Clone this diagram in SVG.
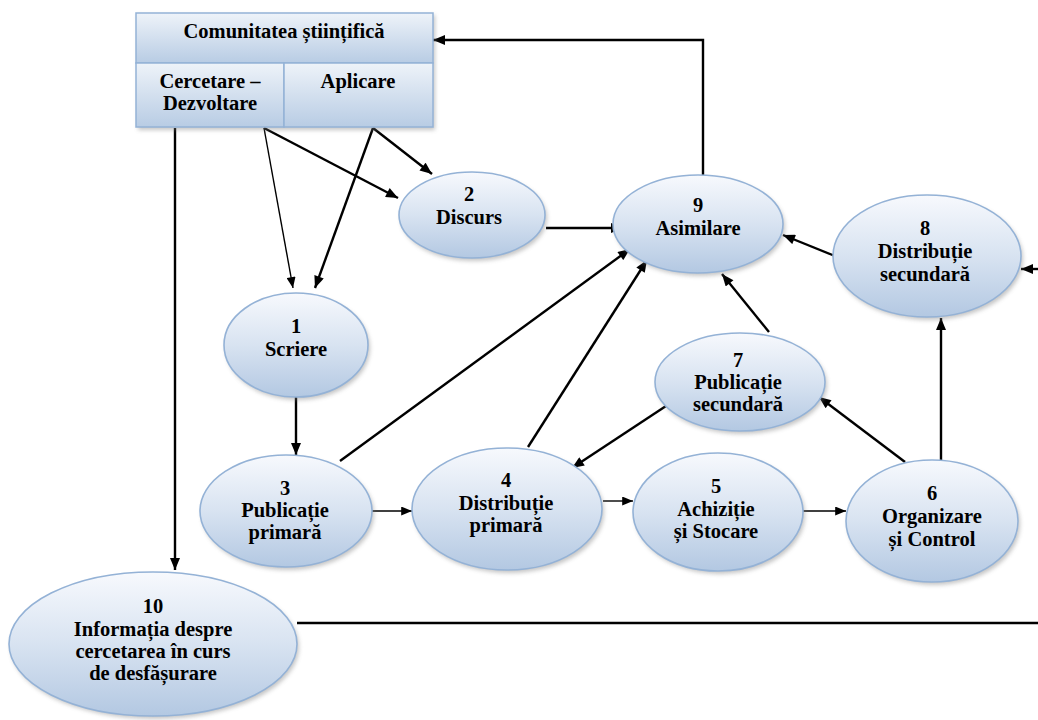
<svg xmlns="http://www.w3.org/2000/svg" width="1038" height="720" viewBox="0 0 1038 720">
<defs>
<linearGradient id="eg" x1="0" y1="0" x2="0" y2="1">
<stop offset="0" stop-color="#f7f9fd"/>
<stop offset="0.5" stop-color="#d8e3f1"/>
<stop offset="1" stop-color="#b3c8e2"/>
</linearGradient>
<linearGradient id="bg" x1="0" y1="0" x2="0" y2="1">
<stop offset="0" stop-color="#eef3f9"/>
<stop offset="1" stop-color="#b8cce4"/>
</linearGradient>
<filter id="sh" x="-10%" y="-10%" width="125%" height="130%">
<feGaussianBlur stdDeviation="2"/>
</filter>
<marker id="ah" viewBox="0 0 12 10" refX="12" refY="5" markerWidth="13" markerHeight="10" markerUnits="userSpaceOnUse" orient="auto">
<path d="M0,0 L12,5 L0,10 z" fill="#000"/>
</marker>
<marker id="ahs" viewBox="0 0 12 10" refX="12" refY="5" markerWidth="12" markerHeight="9" markerUnits="userSpaceOnUse" orient="auto">
<path d="M0,0 L12,5 L0,10 z" fill="#000"/>
</marker>
</defs>
<style>
.el{fill:url(#eg);stroke:#94b2d6;stroke-width:1.6}
.shd{fill:#7f7f7f;opacity:0.45;filter:url(#sh)}
.cell{fill:url(#bg);stroke:#94b2d6;stroke-width:1.5}
.t{font-weight:bold;font-size:20.5px;fill:#000;text-anchor:middle}
.c{fill:none;stroke:#000;stroke-width:2.4}
.cs{fill:none;stroke:#000;stroke-width:1.4}
</style>
<rect width="1038" height="720" fill="#fff"/>

<g id="connectors">
<line class="c" x1="175" y1="128" x2="175" y2="570" marker-end="url(#ah)"/>
<line class="cs" x1="264" y1="128" x2="293" y2="288" marker-end="url(#ahs)"/>
<line class="c" x1="264" y1="128" x2="398" y2="198" marker-end="url(#ah)"/>
<line class="c" x1="373" y1="128" x2="432" y2="174" marker-end="url(#ah)"/>
<line class="c" x1="373" y1="128" x2="315" y2="288" marker-end="url(#ah)"/>
<line class="c" x1="546" y1="228" x2="623" y2="228" marker-end="url(#ah)"/>
<polyline class="c" points="703,175 703,40 433,40" marker-end="url(#ah)"/>
<line class="c" x1="835" y1="256" x2="783" y2="235" marker-end="url(#ah)"/>
<line class="c" x1="1038" y1="269" x2="1021" y2="269" marker-end="url(#ah)"/>
<line class="c" x1="296" y1="397" x2="296" y2="455" marker-end="url(#ah)"/>
<line class="c" x1="340" y1="461" x2="630" y2="249" marker-end="url(#ah)"/>
<line class="c" x1="528" y1="447" x2="647" y2="260" marker-end="url(#ah)"/>
<line class="c" x1="769" y1="332" x2="722" y2="274" marker-end="url(#ah)"/>
<line class="c" x1="666" y1="406" x2="572" y2="468" marker-end="url(#ah)"/>
<line class="c" x1="905" y1="462" x2="819" y2="397" marker-end="url(#ah)"/>
<line class="c" x1="941" y1="461" x2="941" y2="318" marker-end="url(#ah)"/>
<line class="cs" x1="372" y1="511" x2="412" y2="511" marker-end="url(#ahs)"/>
<line class="cs" x1="603" y1="501" x2="633" y2="501" marker-end="url(#ahs)"/>
<line class="cs" x1="803" y1="511" x2="846" y2="511" marker-end="url(#ahs)"/>
<line class="c" x1="297" y1="623" x2="1038" y2="623"/>
</g>

<g font-family="Liberation Serif, Times New Roman, DejaVu Serif, serif">
<g id="comunitatea">
<rect class="shd" x="138" y="15" width="297" height="115"/>
<rect class="cell" x="136" y="13" width="297" height="50"/>
<rect class="cell" x="136" y="63" width="148" height="64"/>
<rect class="cell" x="284" y="63" width="149" height="64"/>
<text class="t" x="284" y="38" font-size="21">Comunitatea științifică</text>
<text class="t" x="210" y="88">Cercetare –</text>
<text class="t" x="210" y="110">Dezvoltare</text>
<text class="t" x="358" y="88">Aplicare</text>
</g>

<g id="n2">
<ellipse class="shd" cx="474" cy="218" rx="73" ry="43"/>
<ellipse class="el" cx="472" cy="215" rx="73" ry="43"/>
<text class="t" x="469" y="201">2</text>
<text class="t" x="469" y="224">Discurs</text>
</g>

<g id="n9">
<ellipse class="shd" cx="700" cy="227" rx="85" ry="49"/>
<ellipse class="el" cx="698" cy="224" rx="85" ry="49"/>
<text class="t" x="698" y="212">9</text>
<text class="t" x="698" y="235">Asimilare</text>
</g>

<g id="n8">
<ellipse class="shd" cx="929" cy="259" rx="94" ry="61"/>
<ellipse class="el" cx="927" cy="256" rx="94" ry="61"/>
<text class="t" x="925" y="235">8</text>
<text class="t" x="925" y="258">Distribuție</text>
<text class="t" x="925" y="281">secundară</text>
</g>

<g id="n1">
<ellipse class="shd" cx="298" cy="348" rx="72" ry="52"/>
<ellipse class="el" cx="296" cy="345" rx="72" ry="52"/>
<text class="t" x="296" y="333">1</text>
<text class="t" x="296" y="356">Scriere</text>
</g>

<g id="n7">
<ellipse class="shd" cx="742" cy="385" rx="85" ry="49"/>
<ellipse class="el" cx="740" cy="382" rx="85" ry="49"/>
<text class="t" x="738" y="367">7</text>
<text class="t" x="738" y="389">Publicație</text>
<text class="t" x="738" y="411">secundară</text>
</g>

<g id="n3">
<ellipse class="shd" cx="288" cy="514" rx="86" ry="56"/>
<ellipse class="el" cx="286" cy="511" rx="86" ry="56"/>
<text class="t" x="285" y="495">3</text>
<text class="t" x="285" y="517">Publicație</text>
<text class="t" x="285" y="539">primară</text>
</g>

<g id="n4">
<ellipse class="shd" cx="509" cy="512" rx="95" ry="61"/>
<ellipse class="el" cx="507" cy="509" rx="95" ry="61"/>
<text class="t" x="506" y="487">4</text>
<text class="t" x="506" y="510">Distribuție</text>
<text class="t" x="506" y="532">primară</text>
</g>

<g id="n5">
<ellipse class="shd" cx="720" cy="515" rx="85" ry="59"/>
<ellipse class="el" cx="718" cy="512" rx="85" ry="59"/>
<text class="t" x="716" y="493">5</text>
<text class="t" x="716" y="516">Achiziție</text>
<text class="t" x="716" y="538">și Stocare</text>
</g>

<g id="n6">
<ellipse class="shd" cx="934" cy="524" rx="86" ry="61"/>
<ellipse class="el" cx="932" cy="521" rx="86" ry="61"/>
<text class="t" x="932" y="500">6</text>
<text class="t" x="932" y="523">Organizare</text>
<text class="t" x="932" y="546">și Control</text>
</g>

<g id="n10">
<ellipse class="shd" cx="155" cy="647" rx="144" ry="72"/>
<ellipse class="el" cx="153" cy="644" rx="144" ry="72"/>
<text class="t" x="153" y="613">10</text>
<text class="t" x="153" y="636">Informația despre</text>
<text class="t" x="153" y="658">cercetarea în curs</text>
<text class="t" x="153" y="680">de desfășurare</text>
</g>
</g>
</svg>
